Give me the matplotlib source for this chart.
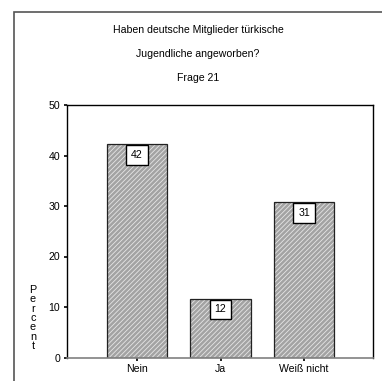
import matplotlib.pyplot as plt
from matplotlib.patches import Rectangle

categories = ["Nein", "Ja", "Weiß nicht"]
percent = [42.2, 11.6, 30.7]
labels = ["42", "12", "31"]
yticks = [0, 10, 20, 30, 40, 50]
title_lines = ["Haben deutsche Mitglieder türkische",
               "Jugendliche angeworben?",
               "Frage 21"]

plt.rcParams['font.family'] = ['Liberation Sans', 'DejaVu Sans']
plt.rcParams['hatch.linewidth'] = 0.6

W, H = 382, 381
fig = plt.figure(figsize=(W / 100, H / 100), dpi=100)
ax = fig.add_axes([67 / W, 1 - 357.5 / H, (373 - 67) / W, (357.5 - 105) / H])

x = list(range(len(categories)))
ax.bar(x, percent, width=0.73, color='#a3a3a3', edgecolor='#e6e6e6', hatch='///////', linewidth=0)
ax.bar(x, percent, width=0.73, fill=False, edgecolor='#222222', linewidth=0.9)

for xi, v, lab in zip(x, percent, labels):
    ax.annotate(lab, (xi, v), xytext=(0, -7.5), textcoords='offset points',
                ha='center', va='center', fontsize=7.7,
                bbox=dict(boxstyle='square,pad=0.45', fc='white', ec='black', lw=1.0))

ax.set_xlim(-0.838, 2.826)
ax.set_ylim(0, 50)
ax.set_yticks(yticks)
ax.set_xticks(x)
ax.set_xticklabels(categories)
ax.tick_params(length=2, width=1.2, labelsize=7.6, color='black', pad=3)
for s in ['left', 'top', 'right']:
    ax.spines[s].set_linewidth(1.0)
    ax.spines[s].set_color('black')
ax.spines['bottom'].set_color('#808080')
ax.spines['bottom'].set_linewidth(1.2)

for i, line in enumerate(title_lines):
    fig.text(0.5 * (14 + 382) / W, 1 - [30, 54, 78][i] / H, line,
             ha='center', va='center', fontsize=7.6)

fig.text(33 / W, 1 - 318 / H, "\n".join("Percent"), ha='center', va='center',
         fontsize=7.8, linespacing=0.92)

fig.add_artist(Rectangle((14 / W, -0.1), 1.2, 1.1 - 12 / H, transform=fig.transFigure,
                         fill=False, edgecolor='#555555', linewidth=1.2))

fig.savefig("out.png", dpi=100)
